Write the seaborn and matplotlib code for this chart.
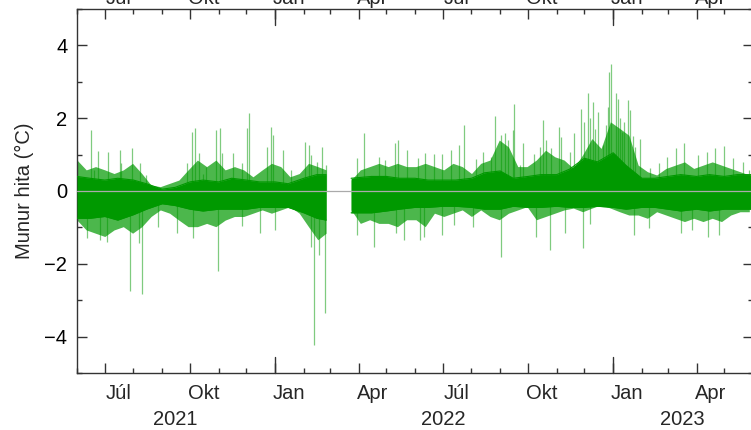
import pandas as pd
import numpy as np
import matplotlib
matplotlib.use('Agg')
import matplotlib.pyplot as plt
import matplotlib.dates as mdates
import matplotlib.transforms as mtransforms
from matplotlib.ticker import MultipleLocator
import seaborn as sns

sns.set_style('ticks')
plt.rcParams['font.family'] = ['Liberation Sans', 'DejaVu Sans']

# kjarni mæliraðarinnar (þétti hlutinn), tvö tímabil með gati á milli
core_seg = [1] * 19 + [2] * 29
core_date = ['2021-06-01', '2021-06-15', '2021-07-01', '2021-07-15', '2021-08-01', '2021-08-15',
             '2021-09-01', '2021-09-15', '2021-10-01', '2021-10-15', '2021-11-01', '2021-11-15',
             '2021-12-01', '2021-12-15', '2022-01-01', '2022-01-15', '2022-02-01', '2022-02-15',
             '2022-02-25',
             '2022-03-24', '2022-04-15', '2022-05-01', '2022-05-15', '2022-06-01', '2022-06-15',
             '2022-07-01', '2022-07-15', '2022-08-01', '2022-08-15', '2022-09-01', '2022-09-15',
             '2022-10-01', '2022-10-15', '2022-11-01', '2022-11-15', '2022-12-01', '2022-12-15',
             '2023-01-01', '2023-01-15', '2023-02-01', '2023-02-15', '2023-03-01', '2023-03-15',
             '2023-04-01', '2023-04-15', '2023-05-01', '2023-05-15', '2023-05-31']
core_hi = [0.40, 0.35, 0.30, 0.35, 0.30, 0.20, 0.05, 0.10, 0.25, 0.30, 0.25, 0.35, 0.30, 0.25,
           0.25, 0.20, 0.35, 0.45, 0.45,
           0.35, 0.40, 0.40, 0.35, 0.35, 0.30, 0.30, 0.30, 0.35, 0.50, 0.55, 0.35, 0.40, 0.45,
           0.45, 0.60, 0.90, 0.80, 1.05, 0.70, 0.35, 0.35, 0.40, 0.45, 0.40, 0.45, 0.40, 0.45, 0.45]
core_lo = [-0.75, -0.75, -0.70, -0.80, -0.65, -0.50, -0.35, -0.40, -0.50, -0.55, -0.50, -0.50,
           -0.50, -0.45, -0.45, -0.45, -0.60, -0.75, -0.80,
           -0.60, -0.60, -0.55, -0.50, -0.45, -0.45, -0.42, -0.42, -0.45, -0.50, -0.50, -0.42,
           -0.45, -0.45, -0.42, -0.45, -0.45, -0.42, -0.45, -0.50, -0.45, -0.45, -0.50, -0.55,
           -0.50, -0.55, -0.50, -0.50, -0.50]

# ytri mörk þéttu sveiflnanna, á 10 daga fresti
band_seg = [1] * 28 + [2] * 44
band_date = ['2021-06-01', '2021-06-11', '2021-06-21', '2021-07-01', '2021-07-11', '2021-07-21',
             '2021-07-31', '2021-08-10', '2021-08-20', '2021-08-30', '2021-09-09', '2021-09-19',
             '2021-09-29', '2021-10-09', '2021-10-19', '2021-10-29', '2021-11-08', '2021-11-18',
             '2021-11-28', '2021-12-08', '2021-12-18', '2021-12-28', '2022-01-07', '2022-01-17',
             '2022-01-27', '2022-02-06', '2022-02-16', '2022-02-25',
             '2022-03-24', '2022-04-03', '2022-04-13', '2022-04-23', '2022-05-03', '2022-05-13',
             '2022-05-23', '2022-06-02', '2022-06-12', '2022-06-22', '2022-07-02', '2022-07-12',
             '2022-07-22', '2022-08-01', '2022-08-11', '2022-08-21', '2022-08-31', '2022-09-10',
             '2022-09-20', '2022-09-30', '2022-10-10', '2022-10-20', '2022-10-30', '2022-11-09',
             '2022-11-19', '2022-11-29', '2022-12-09', '2022-12-19', '2022-12-29', '2023-01-08',
             '2023-01-18', '2023-01-28', '2023-02-07', '2023-02-17', '2023-02-27', '2023-03-09',
             '2023-03-19', '2023-03-29', '2023-04-08', '2023-04-18', '2023-04-28', '2023-05-08',
             '2023-05-18', '2023-05-28']
band_hi = [0.85, 0.58, 0.67, 0.58, 0.48, 0.58, 0.76, 0.48, 0.16, 0.12, 0.21, 0.30,
           0.58, 0.85, 0.67, 0.85, 0.58, 0.67, 0.58, 0.39, 0.58, 0.76, 0.67, 0.39,
           0.48, 0.76, 0.67, 0.58,
           0.30, 0.58, 0.67, 0.76, 0.67, 0.76, 0.67, 0.67, 0.76, 0.67, 0.58, 0.76,
           0.67, 0.48, 0.76, 0.85, 1.40, 1.21, 0.67, 0.67, 0.85, 1.12, 0.94, 0.85,
           0.62, 0.99, 1.44, 1.17, 1.90, 1.72, 1.53, 0.71, 0.53, 0.44, 0.62, 0.71,
           0.80, 0.62, 0.71, 0.80, 0.71, 0.62, 0.53, 0.44]
band_lo = [-0.80, -1.07, -1.16, -1.25, -1.07, -0.98, -1.16, -0.98, -0.70, -0.52, -0.61, -0.80,
           -0.98, -0.98, -0.89, -0.98, -0.80, -0.70, -0.70, -0.61, -0.52, -0.61, -0.52, -0.43,
           -0.61, -0.98, -1.34, -1.16,
           -0.52, -0.89, -0.79, -0.89, -0.89, -0.98, -0.79, -0.79, -0.98, -0.61, -0.70, -0.61,
           -0.52, -0.70, -0.52, -0.70, -0.79, -0.61, -0.52, -0.43, -0.79, -0.70, -0.61, -0.52,
           -0.47, -0.57, -0.47, -0.38, -0.47, -0.57, -0.66, -0.66, -0.75, -0.57, -0.66, -0.75,
           -0.84, -0.75, -0.84, -0.75, -0.84, -0.66, -0.57, -0.57]

# stakir toppar upp á við
peak_date = ['2021-06-01', '2021-06-16', '2021-06-19', '2021-06-24', '2021-07-04', '2021-07-17',
             '2021-07-19', '2021-07-30', '2021-08-08', '2021-08-14', '2021-09-28', '2021-10-03',
             '2021-10-06', '2021-10-11', '2021-10-15', '2021-10-18', '2021-10-29', '2021-11-02',
             '2021-11-05', '2021-11-16', '2021-11-26', '2021-12-02', '2021-12-04', '2021-12-23',
             '2021-12-28', '2021-12-30', '2022-01-09', '2022-01-18', '2022-02-02', '2022-02-06',
             '2022-02-09', '2022-02-15', '2022-02-21', '2022-02-25',
             '2022-03-30', '2022-04-07', '2022-04-23', '2022-04-30', '2022-05-10', '2022-05-14',
             '2022-05-23', '2022-06-04', '2022-06-12', '2022-06-21', '2022-06-30', '2022-07-10',
             '2022-07-18', '2022-07-24', '2022-08-06', '2022-08-13', '2022-08-22', '2022-08-26',
             '2022-09-02', '2022-09-06', '2022-09-09', '2022-09-15', '2022-09-16', '2022-09-22',
             '2022-09-26', '2022-10-07', '2022-10-14', '2022-10-17', '2022-10-21', '2022-10-26',
             '2022-11-03', '2022-11-06', '2022-11-15', '2022-11-20', '2022-11-27', '2022-11-30',
             '2022-12-05', '2022-12-07', '2022-12-10', '2022-12-12', '2022-12-16', '2022-12-21',
             '2022-12-24', '2022-12-26', '2022-12-28', '2022-12-30', '2023-01-04', '2023-01-06',
             '2023-01-08', '2023-01-11', '2023-01-13', '2023-01-17', '2023-01-19', '2023-01-22',
             '2023-01-25', '2023-01-30', '2023-02-10', '2023-02-20', '2023-02-28', '2023-03-10',
             '2023-03-19', '2023-04-03', '2023-04-12', '2023-04-21', '2023-05-01', '2023-05-10',
             '2023-05-21', '2023-05-28']
peak_val = [0.85, 1.67, 0.58, 1.10, 1.08, 1.12, 0.76, 1.18, 0.76, 0.44, 0.76, 1.63,
            1.72, 1.04, 0.48, 0.66, 1.67, 1.72, 1.04, 1.04, 0.76, 1.72, 2.15, 1.21,
            1.76, 1.53, 1.14, 0.58, 1.35, 1.26, 0.99, 0.80, 1.21, 0.71,
            0.90, 1.58, 0.94, 0.85, 1.31, 1.40, 1.12, 0.90, 1.05, 1.01, 1.03, 1.12,
            1.26, 1.81, 0.87, 1.08, 0.94, 2.06, 1.53, 1.58, 1.40, 1.67, 2.38, 0.71,
            1.31, 1.03, 1.21, 1.95, 1.40, 1.17, 1.76, 1.49, 1.08, 1.60, 2.26, 1.90,
            2.68, 2.00, 2.45, 1.70, 2.17, 1.26, 1.80, 2.30, 3.27, 3.50, 2.68, 2.54,
            2.00, 1.62, 1.90, 2.49, 2.22, 1.50, 1.20, 1.44, 0.62, 0.76, 0.94, 1.17,
            1.33, 0.99, 1.08, 1.17, 1.24, 0.90, 0.80, 0.58]

# stakir toppar niður á við
dip_date = ['2021-06-12', '2021-06-26', '2021-07-03', '2021-07-28', '2021-08-07', '2021-08-10',
            '2021-08-27', '2021-09-17', '2021-10-04', '2021-10-31', '2021-11-26', '2021-12-16',
            '2022-01-01', '2022-02-09', '2022-02-12', '2022-02-17', '2022-02-24',
            '2022-03-30', '2022-04-18', '2022-05-12', '2022-05-20', '2022-06-06', '2022-06-11',
            '2022-06-30', '2022-07-13', '2022-08-03', '2022-09-02', '2022-10-10', '2022-10-25',
            '2022-11-10', '2022-11-29', '2022-12-07', '2023-01-23', '2023-02-09', '2023-03-15',
            '2023-03-27', '2023-04-13', '2023-04-25']
dip_val = [-1.29, -1.34, -1.39, -2.76, -1.43, -2.82, -1.00, -1.15, -1.29, -2.21, -0.95, -1.16,
           -1.07, -1.53, -4.22, -1.75, -3.35,
           -1.20, -1.53, -1.16, -1.34, -1.34, -1.25, -1.20, -0.93, -0.98, -1.82, -1.25, -1.63,
           -1.16, -1.56, -0.90, -1.20, -1.02, -1.16, -1.07, -1.25, -1.20]

month_lab = ['Júl', 'Okt', 'Jan', 'Apr', 'Júl', 'Okt', 'Jan', 'Apr']
month_pos = ['2021-07-16', '2021-10-16', '2022-01-16', '2022-04-16',
             '2022-07-16', '2022-10-16', '2023-01-16', '2023-04-16']
year_lab = ['2021', '2022', '2023']
year_pos = ['2021-09-15', '2022-07-02', '2023-03-17']

core = pd.DataFrame({'seg': core_seg, 'date': pd.to_datetime(core_date),
                     'hi': core_hi, 'lo': core_lo})
band = pd.DataFrame({'seg': band_seg, 'date': pd.to_datetime(band_date),
                     'hi': band_hi, 'lo': band_lo})
peaks = pd.DataFrame({'date': pd.to_datetime(peak_date + dip_date), 'val': peak_val + dip_val})

green = '#009900'
fs = 14.5
W, H = 751, 430
fig = plt.figure(figsize=(W / 100, H / 100), dpi=100)
ax = fig.add_axes([77 / W, (H - 373) / H, 676 / W, 364 / H])

for s, d in band.groupby('seg'):
    ax.fill_between(d['date'], d['lo'], d['hi'], color=green, alpha=0.7, lw=0, zorder=2)
ax.vlines(peaks['date'], 0, peaks['val'], color=green, alpha=0.5, lw=0.9, zorder=2)
for s, d in core.groupby('seg'):
    ax.fill_between(d['date'], d['lo'], d['hi'], color=green, lw=0, zorder=3)
sns.lineplot(data=core, x='date', y='hi', units='seg', estimator=None, color=green, lw=0.8,
             ax=ax, zorder=3)
sns.lineplot(data=core, x='date', y='lo', units='seg', estimator=None, color=green, lw=0.8,
             ax=ax, zorder=3)
ax.axhline(0, color='#aaaaaa', lw=0.9, zorder=5)

ax.set_xlim(pd.Timestamp('2021-06-01'), pd.Timestamp('2023-06-01'))
ax.set_ylim(-5, 5)
ax.set_xlabel('')
ax.set_ylabel('')

ax.xaxis.set_major_locator(mdates.MonthLocator(bymonth=[1, 4, 7, 10]))
ax.xaxis.set_minor_locator(mdates.MonthLocator())
ax.yaxis.set_major_locator(MultipleLocator(2))
ax.yaxis.set_minor_locator(MultipleLocator(1))
ax.tick_params(which='both', direction='in', top=True, right=True, width=1.0, color='#333333')
ax.tick_params(which='major', length=7.2)
ax.tick_params(which='minor', length=3.6)
ax.tick_params(axis='x', labelbottom=False, labeltop=False)
ax.tick_params(axis='y', labelsize=fs, pad=7, labelcolor='black')
for sp in ax.spines.values():
    sp.set_color('#333333')
    sp.set_linewidth(1.0)

# lengri merki við áramót
tr = mtransforms.blended_transform_factory(ax.transData, ax.transAxes)
for j in ['2022-01-01', '2023-01-01']:
    jx = pd.Timestamp(j)
    ax.plot([jx, jx], [0, 16 / 364], transform=tr, color='#333333', lw=1.0, clip_on=False)
    ax.plot([jx, jx], [1, 1 - 16 / 364], transform=tr, color='#333333', lw=1.0, clip_on=False)

for lab, pos in zip(month_lab, month_pos):
    ax.text(pd.Timestamp(pos), -26 / 364, lab, transform=tr, ha='center', va='baseline',
            fontsize=fs)
    ax.text(pd.Timestamp(pos), 1 + 5 / 364, lab, transform=tr, ha='center', va='baseline',
            fontsize=fs)
for lab, pos in zip(year_lab, year_pos):
    ax.text(pd.Timestamp(pos), -52 / 364, lab, transform=tr, ha='center', va='baseline',
            fontsize=fs)

fig.text(24 / W, (H - 191) / H, 'Munur hita (°C)', rotation=90, ha='center', va='center',
         fontsize=fs)

fig.savefig('out.png', dpi=100)
